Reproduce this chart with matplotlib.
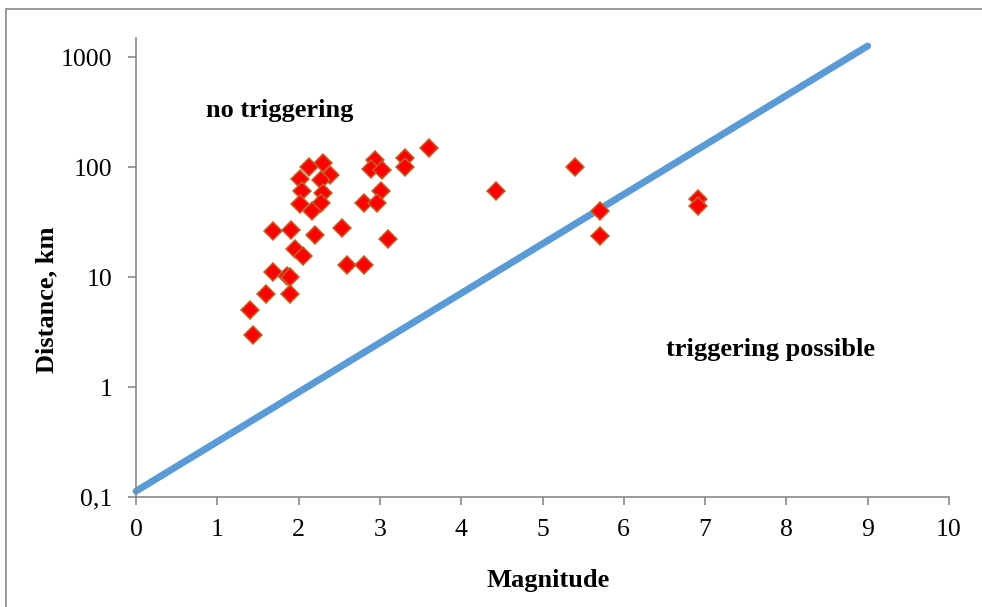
import matplotlib.pyplot as plt
from matplotlib.patches import Rectangle
from matplotlib.ticker import FixedLocator, FixedFormatter, NullLocator

# event data: magnitude vs distance (km)
magnitude = [3.60, 3.31, 3.31, 2.94, 2.89, 3.02, 3.01, 2.80, 2.96, 3.10,
             2.53, 2.60, 2.80, 2.13, 2.30, 2.39, 2.02, 2.28, 2.04, 2.30,
             2.02, 2.28, 2.16, 1.69, 1.91, 2.20, 1.96, 2.06, 1.69, 1.86,
             1.90, 1.60, 1.89, 1.40, 1.44, 4.43, 5.40, 5.71, 5.71, 6.91,
             6.91]
distance = [148, 120, 100, 116, 96, 93, 60, 47, 47, 22,
            28, 12.9, 12.9, 100, 108, 85, 77, 76, 60, 58,
            46, 47, 40, 26, 27, 24, 18, 15.5, 11, 10.3,
            9.9, 7.0, 7.0, 5.0, 3.0, 60.5, 100, 40, 23.7, 51,
            44]

# boundary line
line_m = [0, 9]
line_d = [0.113, 1260]

x_ticks = list(range(0, 11))
y_ticks = [0.1, 1, 10, 100, 1000]
y_labels = ["0,1", "1", "10", "100", "1000"]

GRAY = "#898989"
plt.rcParams["font.family"] = ["Liberation Serif", "DejaVu Serif"]

fig = plt.figure(figsize=(9.82, 6.07), dpi=100)
# outer chart frame (only top and left edges fall inside the image)
fig.patches.append(Rectangle((6 / 982, -0.05), 1.1, 1 - 9 / 607 + 0.05,
                             transform=fig.transFigure, fill=False,
                             edgecolor=GRAY, linewidth=1.2))

ax = fig.add_axes([136 / 982, 1 - 497 / 607, (949 - 136) / 982, (497 - 38) / 607])
ax.set_yscale("log")
ax.set_xlim(0, 10)
ax.set_ylim(0.1, 10 ** (3 + 19 / 110))

ax.plot(line_m, line_d, color="#5b9bd5", linewidth=5, solid_capstyle="round",
        zorder=2, clip_on=False)
ax.plot(magnitude, distance, linestyle="none", marker="D", markersize=9.3,
        markerfacecolor="#ff0000", markeredgecolor="#c0622a",
        markeredgewidth=1.1, zorder=3)

ax.text(0.177, 0.842, "no triggering", transform=ax.transAxes, fontsize=19,
        fontweight="bold", ha="center", va="center")
ax.text(0.781, 0.322, "triggering possible", transform=ax.transAxes,
        fontsize=19, fontweight="bold", ha="center", va="center")

for s in ("top", "right"):
    ax.spines[s].set_visible(False)
for s in ("left", "bottom"):
    ax.spines[s].set_color(GRAY)
    ax.spines[s].set_linewidth(1.2)

ax.xaxis.set_major_locator(FixedLocator(x_ticks))
ax.yaxis.set_major_locator(FixedLocator(y_ticks))
ax.yaxis.set_major_formatter(FixedFormatter(y_labels))
ax.yaxis.set_minor_locator(NullLocator())
ax.tick_params(axis="both", direction="out", length=6, width=1.2,
               color=GRAY, labelsize=18.5, labelcolor="black")
ax.tick_params(axis="x", pad=10)
ax.tick_params(axis="y", pad=11)

ax.set_xlabel("Magnitude", fontsize=19, fontweight="bold")
ax.set_ylabel("Distance, km", fontsize=19, fontweight="bold")
ax.xaxis.set_label_coords(0.507, -0.181)
ax.xaxis.label.set_va("center")
ax.yaxis.set_label_coords(-0.110, 0.43)
ax.yaxis.label.set_va("center")

fig.savefig("out.png", dpi=100, facecolor="white")
